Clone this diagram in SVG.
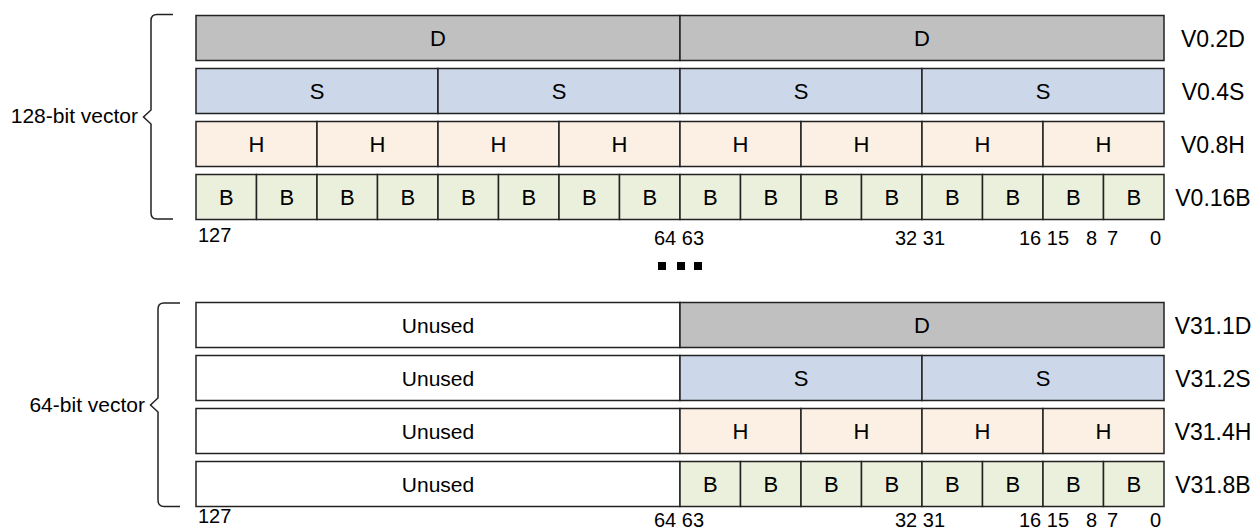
<svg xmlns="http://www.w3.org/2000/svg" width="1256" height="529" viewBox="0 0 1256 529">
<style>
text{font-family:"Liberation Sans",Arial,sans-serif;fill:#000}
.c{font-size:22px;text-anchor:middle}
.uu{font-size:21px;text-anchor:middle}
.r{font-size:23px;text-anchor:middle}
.l{font-size:21px;text-anchor:end}
.n{font-size:20px}
.d,.s,.h,.b,.u{stroke:#222;stroke-width:1.5}
.d{fill:#c0c0c0}.s{fill:#ccd8e9}.h{fill:#fcefe4}.b{fill:#ebf0dd}.u{fill:#fff}
.br{fill:none;stroke:#222;stroke-width:1.5}
.dot{fill:#000}
</style>
<rect width="1256" height="529" fill="#fff"/>
<g id="brace128">
<path class="br" d="M173,14.5 L157,14.5 Q151,14.5 151,20.5 L151,110 L143.5,117 L151,124 L151,213 Q151,219 157,219 L173,219"/>
<text class="l" x="138" y="123">128-bit vector</text>
</g>
<g id="brace64">
<path class="br" d="M180,303 L164,303 Q158,303 158,309 L158,398 L150.5,405 L158,412 L158,500 Q158,506.5 164,506.5 L180,506.5"/>
<text class="l" x="145" y="412">64-bit vector</text>
</g>
<g id="v0_2d">
<rect class="d" x="196" y="15.5" width="484" height="45"/><text class="c" x="438" y="46">D</text>
<rect class="d" x="680" y="15.5" width="484" height="45"/><text class="c" x="922" y="46">D</text>
<text class="r" x="1213" y="46.5">V0.2D</text>
</g>
<g id="v0_4s">
<rect class="s" x="196" y="68.5" width="242" height="45"/><text class="c" x="317" y="99">S</text>
<rect class="s" x="438" y="68.5" width="242" height="45"/><text class="c" x="559" y="99">S</text>
<rect class="s" x="680" y="68.5" width="242" height="45"/><text class="c" x="801" y="99">S</text>
<rect class="s" x="922" y="68.5" width="242" height="45"/><text class="c" x="1043" y="99">S</text>
<text class="r" x="1213" y="99.5">V0.4S</text>
</g>
<g id="v0_8h">
<rect class="h" x="196" y="121.5" width="121" height="45"/><text class="c" x="256.5" y="152">H</text>
<rect class="h" x="317" y="121.5" width="121" height="45"/><text class="c" x="377.5" y="152">H</text>
<rect class="h" x="438" y="121.5" width="121" height="45"/><text class="c" x="498.5" y="152">H</text>
<rect class="h" x="559" y="121.5" width="121" height="45"/><text class="c" x="619.5" y="152">H</text>
<rect class="h" x="680" y="121.5" width="121" height="45"/><text class="c" x="740.5" y="152">H</text>
<rect class="h" x="801" y="121.5" width="121" height="45"/><text class="c" x="861.5" y="152">H</text>
<rect class="h" x="922" y="121.5" width="121" height="45"/><text class="c" x="982.5" y="152">H</text>
<rect class="h" x="1043" y="121.5" width="121" height="45"/><text class="c" x="1103.5" y="152">H</text>
<text class="r" x="1213" y="152.5">V0.8H</text>
</g>
<g id="v0_16b">
<rect class="b" x="196" y="174.5" width="60.5" height="45"/><text class="c" x="226.25" y="205">B</text>
<rect class="b" x="256.5" y="174.5" width="60.5" height="45"/><text class="c" x="286.75" y="205">B</text>
<rect class="b" x="317" y="174.5" width="60.5" height="45"/><text class="c" x="347.25" y="205">B</text>
<rect class="b" x="377.5" y="174.5" width="60.5" height="45"/><text class="c" x="407.75" y="205">B</text>
<rect class="b" x="438" y="174.5" width="60.5" height="45"/><text class="c" x="468.25" y="205">B</text>
<rect class="b" x="498.5" y="174.5" width="60.5" height="45"/><text class="c" x="528.75" y="205">B</text>
<rect class="b" x="559" y="174.5" width="60.5" height="45"/><text class="c" x="589.25" y="205">B</text>
<rect class="b" x="619.5" y="174.5" width="60.5" height="45"/><text class="c" x="649.75" y="205">B</text>
<rect class="b" x="680" y="174.5" width="60.5" height="45"/><text class="c" x="710.25" y="205">B</text>
<rect class="b" x="740.5" y="174.5" width="60.5" height="45"/><text class="c" x="770.75" y="205">B</text>
<rect class="b" x="801" y="174.5" width="60.5" height="45"/><text class="c" x="831.25" y="205">B</text>
<rect class="b" x="861.5" y="174.5" width="60.5" height="45"/><text class="c" x="891.75" y="205">B</text>
<rect class="b" x="922" y="174.5" width="60.5" height="45"/><text class="c" x="952.25" y="205">B</text>
<rect class="b" x="982.5" y="174.5" width="60.5" height="45"/><text class="c" x="1012.75" y="205">B</text>
<rect class="b" x="1043" y="174.5" width="60.5" height="45"/><text class="c" x="1073.25" y="205">B</text>
<rect class="b" x="1103.5" y="174.5" width="60.5" height="45"/><text class="c" x="1133.75" y="205">B</text>
<text class="r" x="1213" y="205.5">V0.16B</text>
</g>
<g id="bits_top">
<text class="n" x="198" y="242">127</text>
<text class="n" x="654" y="245">64 63</text>
<text class="n" x="895" y="245">32 31</text>
<text class="n" x="1019" y="245">16 15</text>
<text class="n" x="1086" y="245">8</text>
<text class="n" x="1107" y="245">7</text>
<text class="n" x="1150" y="245">0</text>
</g>
<g id="ellipsis">
<rect class="dot" x="658" y="262" width="8" height="8"/>
<rect class="dot" x="677" y="262" width="8" height="8"/>
<rect class="dot" x="694" y="262" width="8" height="8"/>
</g>
<g id="v31_1d">
<rect class="u" x="196" y="302.5" width="484" height="45"/><text class="uu" x="438" y="333">Unused</text>
<rect class="d" x="680" y="302.5" width="484" height="45"/><text class="c" x="922" y="333">D</text>
<text class="r" x="1213" y="333.5">V31.1D</text>
</g>
<g id="v31_2s">
<rect class="u" x="196" y="355.5" width="484" height="45"/><text class="uu" x="438" y="386">Unused</text>
<rect class="s" x="680" y="355.5" width="242" height="45"/><text class="c" x="801" y="386">S</text>
<rect class="s" x="922" y="355.5" width="242" height="45"/><text class="c" x="1043" y="386">S</text>
<text class="r" x="1213" y="386.5">V31.2S</text>
</g>
<g id="v31_4h">
<rect class="u" x="196" y="408.5" width="484" height="45"/><text class="uu" x="438" y="439">Unused</text>
<rect class="h" x="680" y="408.5" width="121" height="45"/><text class="c" x="740.5" y="439">H</text>
<rect class="h" x="801" y="408.5" width="121" height="45"/><text class="c" x="861.5" y="439">H</text>
<rect class="h" x="922" y="408.5" width="121" height="45"/><text class="c" x="982.5" y="439">H</text>
<rect class="h" x="1043" y="408.5" width="121" height="45"/><text class="c" x="1103.5" y="439">H</text>
<text class="r" x="1213" y="439.5">V31.4H</text>
</g>
<g id="v31_8b">
<rect class="u" x="196" y="461.5" width="484" height="45"/><text class="uu" x="438" y="492">Unused</text>
<rect class="b" x="680" y="461.5" width="60.5" height="45"/><text class="c" x="710.25" y="492">B</text>
<rect class="b" x="740.5" y="461.5" width="60.5" height="45"/><text class="c" x="770.75" y="492">B</text>
<rect class="b" x="801" y="461.5" width="60.5" height="45"/><text class="c" x="831.25" y="492">B</text>
<rect class="b" x="861.5" y="461.5" width="60.5" height="45"/><text class="c" x="891.75" y="492">B</text>
<rect class="b" x="922" y="461.5" width="60.5" height="45"/><text class="c" x="952.25" y="492">B</text>
<rect class="b" x="982.5" y="461.5" width="60.5" height="45"/><text class="c" x="1012.75" y="492">B</text>
<rect class="b" x="1043" y="461.5" width="60.5" height="45"/><text class="c" x="1073.25" y="492">B</text>
<rect class="b" x="1103.5" y="461.5" width="60.5" height="45"/><text class="c" x="1133.75" y="492">B</text>
<text class="r" x="1213" y="492.5">V31.8B</text>
</g>
<g id="bits_bottom">
<text class="n" x="198" y="523">127</text>
<text class="n" x="654" y="527">64 63</text>
<text class="n" x="895" y="527">32 31</text>
<text class="n" x="1019" y="527">16 15</text>
<text class="n" x="1086" y="527">8</text>
<text class="n" x="1107" y="527">7</text>
<text class="n" x="1150" y="527">0</text>
</g>
<g id="connectors"></g>
</svg>
